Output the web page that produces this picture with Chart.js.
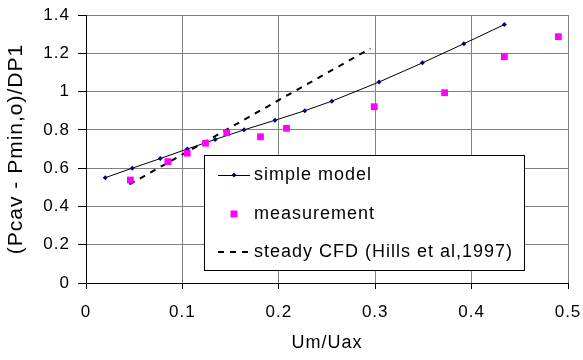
<!DOCTYPE html>
<html>
<head>
<meta charset="utf-8">
<script src="https://cdn.jsdelivr.net/npm/chart.js@4.4.0/dist/chart.umd.min.js"></script>
<style>
  html, body { margin: 0; padding: 0; background: #fff; }
  #wrap { width: 583px; height: 360px; }
</style>
</head>
<body>
<div id="wrap"><canvas id="grafico"></canvas></div>
<script>
// simple model
const xModelo = [0.02, 0.048, 0.077, 0.105, 0.134, 0.164, 0.196, 0.227, 0.255, 0.304, 0.349, 0.392, 0.434];
const yModelo = [0.55, 0.60, 0.65, 0.70, 0.75, 0.80, 0.85, 0.90, 0.95, 1.05, 1.15, 1.25, 1.35];

// measurement
const xMedicao = [0.046, 0.085, 0.105, 0.124, 0.146, 0.181, 0.208, 0.299, 0.372, 0.434, 0.49];
const yMedicao = [0.538, 0.634, 0.678, 0.73, 0.785, 0.764, 0.808, 0.921, 0.994, 1.182, 1.287];

// steady CFD (Hills et al,1997)
const xCfd = [0.045, 0.295];
const yCfd = [0.515, 1.225];

// ticks
const ticksX = [0, 0.1, 0.2, 0.3, 0.4, 0.5];
const ticksY = [0, 0.2, 0.4, 0.6, 0.8, 1, 1.2, 1.4];

const nomes = ['simple model', 'measurement', 'steady CFD (Hills et al,1997)'];

const FONTE = '"Liberation Sans", Arial, Helvetica, sans-serif';

const pares = (xs, ys) => xs.map((x, i) => ({ x: x, y: ys[i] }));

// texto um pouco mais espacado, como no grafico original do Excel
const espacamento = {
  id: 'espacamento',
  beforeDraw(chart) {
    chart.ctx.letterSpacing = '1px';
  }
};

// legenda com caixa dentro da area do grafico
const legendaCaixa = {
  id: 'legendaCaixa',
  afterDraw(chart) {
    const c = chart.ctx;
    const esq = 204, topo = 155, dir = 524, base = 270;
    c.save();
    c.fillStyle = '#fff';
    c.fillRect(esq, topo, dir - esq, base - topo);
    c.strokeStyle = '#000';
    c.lineWidth = 1;
    c.strokeRect(esq + 0.5, topo + 0.5, dir - esq, base - topo);

    const linhas = [175, 214, 252];
    const x0 = 218, x1 = 250, xm = 234;
    c.font = '18px ' + FONTE;
    c.fillStyle = '#000';
    c.textBaseline = 'middle';
    chart.data.datasets.forEach((ds, i) => {
      const y = linhas[i];
      c.save();
      if (i === 0) {
        c.strokeStyle = '#000';
        c.lineWidth = 1;
        c.beginPath(); c.moveTo(x0, y + 0.5); c.lineTo(x1, y + 0.5); c.stroke();
        c.fillStyle = '#000080';
        c.beginPath();
        c.moveTo(xm, y - 2.5); c.lineTo(xm + 2.5, y); c.lineTo(xm, y + 2.5); c.lineTo(xm - 2.5, y);
        c.closePath(); c.fill();
      } else if (i === 1) {
        c.fillStyle = '#ff00ff';
        c.fillRect(xm - 3.5, y - 3.5, 7, 7);
      } else {
        c.strokeStyle = '#000';
        c.lineWidth = 2;
        c.setLineDash([6, 6]);
        c.beginPath(); c.moveTo(x0, y); c.lineTo(x1, y); c.stroke();
      }
      c.restore();
      c.fillText(ds.label, 254, y);
    });
    c.restore();
  }
};

const ctx = document.getElementById('grafico');

new Chart(ctx, {
  type: 'scatter',
  data: {
    datasets: [
      {
        label: nomes[0],
        data: pares(xModelo, yModelo),
        showLine: true,
        borderColor: '#000',
        borderWidth: 1,
        pointStyle: 'rectRot',
        pointRadius: 2.5,
        pointBackgroundColor: '#000080',
        pointBorderColor: '#000080',
        pointBorderWidth: 0,
        order: 1
      },
      {
        label: nomes[1],
        data: pares(xMedicao, yMedicao),
        showLine: false,
        pointStyle: 'rect',
        pointRadius: 4.8,
        pointBackgroundColor: '#ff00ff',
        pointBorderColor: '#ff00ff',
        pointBorderWidth: 0,
        order: 0
      },
      {
        label: nomes[2],
        data: pares(xCfd, yCfd),
        showLine: true,
        borderColor: '#000',
        borderWidth: 2,
        borderDash: [6, 6],
        pointRadius: 0,
        order: 2
      }
    ]
  },
  options: {
    responsive: true,
    maintainAspectRatio: false,
    animation: false,
    layout: { padding: { top: 15, right: 15, left: 0, bottom: 0 } },
    plugins: {
      legend: { display: false },
      tooltip: { enabled: false }
    },
    scales: {
      x: {
        type: 'linear',
        min: 0,
        max: 0.5,
        afterBuildTicks: (s) => { s.ticks = ticksX.map(v => ({ value: v })); },
        afterFit: (s) => {
          s.height = 77;
          s.paddingLeft = 0;
          s.paddingRight = 0;
        },
        ticks: {
          color: '#000',
          font: { family: FONTE, size: 17 },
          padding: 13,
          maxRotation: 0,
          callback: (v) => String(v)
        },
        grid: { color: '#808080', tickColor: '#000', tickLength: 6, lineWidth: 1 },
        border: { color: '#000', width: 1 },
        title: {
          display: true,
          text: 'Um/Uax',
          color: '#000',
          font: { family: FONTE, size: 18 },
          padding: { top: 0, bottom: 6 }
        }
      },
      y: {
        type: 'linear',
        min: 0,
        max: 1.4,
        afterBuildTicks: (s) => { s.ticks = ticksY.map(v => ({ value: v })); },
        afterFit: (s) => {
          s.width = 86;
          s.paddingTop = 0;
          s.paddingBottom = 0;
        },
        ticks: {
          color: '#000',
          font: { family: FONTE, size: 17 },
          padding: 8,
          callback: (v) => String(v)
        },
        grid: { color: '#808080', tickColor: '#000', tickLength: 8, lineWidth: 1 },
        border: { color: '#000', width: 1 },
        title: {
          display: true,
          text: '(Pcav - Pmin,o)/DP1',
          color: '#000',
          font: { family: FONTE, size: 21 },
          padding: { top: 4, bottom: 0 }
        }
      }
    }
  },
  plugins: [espacamento, legendaCaixa]
});
</script>
</body>
</html>
